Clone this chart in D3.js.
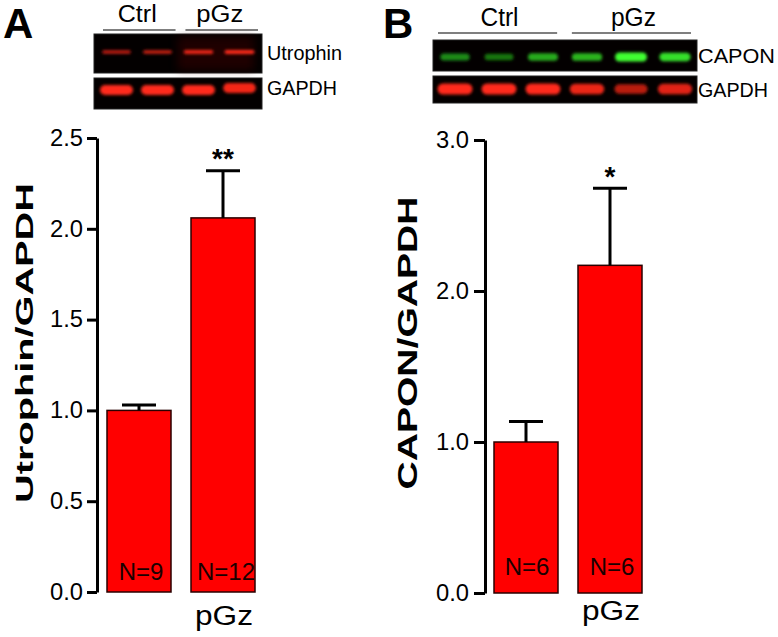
<!DOCTYPE html>
<html>
<head>
<meta charset="utf-8">
<script src="https://cdn.jsdelivr.net/npm/d3@7"></script>
<style>
  html, body { margin: 0; padding: 0; background: #fff; }
  svg { display: block; font-family: "Liberation Sans", Arial, Helvetica, sans-serif; }
</style>
</head>
<body>
<svg id="chart" width="778" height="637"></svg>
<script>
// ---------- data ----------
const categories = ["Ctrl", "pGz"];
const xTickLabels = ["", "pGz"];

const utrophinMean = [1.0, 2.06];
const utrophinSEM = [0.03, 0.26];
const utrophinN = ["N=9", "N=12"];
const utrophinSig = ["", "**"];
const utrophinTicks = [0, 0.5, 1.0, 1.5, 2.0, 2.5];

const caponMean = [1.0, 2.17];
const caponSEM = [0.135, 0.51];
const caponN = ["N=6", "N=6"];
const caponSig = ["", "*"];
const caponTicks = [0, 1.0, 2.0, 3.0];

// blot band intensities (relative), per lane
const utrophinBands = [0.7, 0.75, 0.9, 1.0];
const gapdhBandsA = [1.0, 1.0, 1.0, 0.95];
const caponBands = [0.45, 0.35, 0.6, 0.65, 1.0, 0.85];
const gapdhBandsB = [1.0, 1.0, 1.0, 0.9, 0.65, 0.85];
const blotGroupsA = ["Ctrl", "pGz"];
const blotGroupsB = ["Ctrl", "pGz"];

// ---------- drawing ----------
const svg = d3.select("#chart");
const defs = svg.append("defs");
defs.append("filter").attr("id", "blur3").attr("x", "-50%").attr("y", "-100%").attr("width", "200%").attr("height", "300%")
  .append("feGaussianBlur").attr("stdDeviation", 1.6);
defs.append("filter").attr("id", "blur6").attr("x", "-50%").attr("y", "-100%").attr("width", "200%").attr("height", "300%")
  .append("feGaussianBlur").attr("stdDeviation", 4);

// panel letters
svg.append("text").attr("x", 3).attr("y", 38).attr("font-size", 42).attr("font-weight", "bold").text("A");
svg.append("text").attr("x", 383).attr("y", 38).attr("font-size", 42).attr("font-weight", "bold").text("B");

function drawBlot(cfg) {
  const g = svg.append("g");
  const lanes = d3.scaleBand().domain(d3.range(cfg.rows[0].bands.length)).range([cfg.x0 + cfg.lanePad, cfg.x1 - cfg.lanePad]);
  const groupScale = d3.scaleBand().domain(cfg.groups).range([cfg.lineX0, cfg.lineX1]).paddingInner(cfg.lineGap);
  cfg.groups.forEach((grp, i) => {
    g.append("line")
      .attr("x1", groupScale(grp)).attr("x2", groupScale(grp) + groupScale.bandwidth())
      .attr("y1", cfg.lineY).attr("y2", cfg.lineY)
      .attr("stroke", "#555").attr("stroke-width", 1.5);
    g.append("text")
      .attr("x", groupScale(grp) + groupScale.bandwidth() / 2 + cfg.labelShift[i])
      .attr("y", cfg.labelY).attr("text-anchor", "middle")
      .attr("font-size", cfg.labelSize)
      .attr("textLength", cfg.labelLen[i]).attr("lengthAdjust", "spacingAndGlyphs")
      .text(grp);
  });
  cfg.rows.forEach(row => {
    g.append("rect").attr("x", cfg.x0).attr("y", row.y0).attr("width", cfg.x1 - cfg.x0).attr("height", row.y1 - row.y0)
      .attr("fill", "#030000").attr("stroke", "#222").attr("stroke-width", 1);
    if (row.haze) {
      g.append("rect").attr("x", cfg.x0 + (cfg.x1 - cfg.x0) * 0.5).attr("y", row.y0 + 3)
        .attr("width", (cfg.x1 - cfg.x0) * 0.45).attr("height", row.y1 - row.y0 - 6)
        .attr("fill", "#3a0000").attr("opacity", 0.5).attr("filter", "url(#blur6)");
    }
    row.bands.forEach((v, i) => {
      const cx = lanes(i) + lanes.bandwidth() / 2;
      const w = row.bw * (0.85 + 0.15 * v);
      const h = row.bh * (0.6 + 0.4 * v);
      g.append("rect")
        .attr("x", cx - w / 2).attr("y", row.cy - h / 2 + (row.tilt ? row.tilt[i] : 0))
        .attr("width", w).attr("height", h).attr("rx", h / 2)
        .attr("fill", row.color(v)).attr("filter", "url(#blur3)");
    });
    g.append("text").attr("x", cfg.x1 + cfg.rowLabelGap).attr("y", row.labelY)
      .attr("font-size", 21).attr("textLength", row.labelLen).attr("lengthAdjust", "spacingAndGlyphs")
      .text(row.label);
  });
}

const redC = v => d3.interpolateRgb("#3a0000", "#ff2a1a")(v);
const greenC = v => d3.interpolateRgb("#002a00", "#40ff30")(v);

drawBlot({
  x0: 94, x1: 262, lanePad: 2, rowLabelGap: 5,
  groups: blotGroupsA, lineX0: 103, lineX1: 258, lineGap: 0.12, lineY: 30,
  labelY: 22, labelSize: 23, labelLen: [39, 47], labelShift: [-2, -2],
  rows: [
    { y0: 34, y1: 73, cy: 52, bw: 30, bh: 4, bands: utrophinBands, color: redC, label: "Utrophin", labelY: 60, labelLen: 75, haze: true },
    { y0: 78, y1: 109, cy: 90, bw: 33, bh: 10, bands: gapdhBandsA, color: redC, label: "GAPDH", labelY: 95, labelLen: 70, tilt: [0, 0, 0, -2] }
  ]
});

drawBlot({
  x0: 433, x1: 697, lanePad: 0, rowLabelGap: 1,
  groups: blotGroupsB, lineX0: 438, lineX1: 691, lineGap: 0.11, lineY: 33,
  labelY: 26, labelSize: 25, labelLen: [38, 45], labelShift: [2, 2],
  rows: [
    { y0: 40, y1: 71, cy: 57, bw: 32, bh: 9, bands: caponBands, color: greenC, label: "CAPON", labelY: 63, labelLen: 77 },
    { y0: 76, y1: 103, cy: 89, bw: 35, bh: 11, bands: gapdhBandsB, color: redC, label: "GAPDH", labelY: 97, labelLen: 70 }
  ]
});

function drawBars(cfg) {
  const g = svg.append("g");
  const x = d3.scaleBand().domain(categories).range([cfg.axisX, cfg.axisX + cfg.step * (2 - 20 / 84 + 2 * cfg.po)])
    .paddingInner(20 / 84).paddingOuter(cfg.po);
  const y = d3.scaleLinear().domain([0, cfg.max]).range([cfg.y0, cfg.yTop]);

  g.selectAll("rect.bar").data(categories).join("rect")
    .attr("x", d => x(d)).attr("width", x.bandwidth())
    .attr("y", (d, i) => y(cfg.mean[i])).attr("height", (d, i) => y(0) - y(cfg.mean[i]))
    .attr("fill", "#ff0000").attr("stroke", "#2a0000").attr("stroke-width", 1.5);

  categories.forEach((c, i) => {
    const cx = x(c) + x.bandwidth() / 2;
    g.append("line").attr("x1", cx).attr("x2", cx)
      .attr("y1", y(cfg.mean[i])).attr("y2", y(cfg.mean[i] + cfg.sem[i]))
      .attr("stroke", "#000").attr("stroke-width", 3);
    g.append("line").attr("x1", cx - 17).attr("x2", cx + 17)
      .attr("y1", y(cfg.mean[i] + cfg.sem[i])).attr("y2", y(cfg.mean[i] + cfg.sem[i]))
      .attr("stroke", "#000").attr("stroke-width", 3);
    if (cfg.sig[i]) {
      g.append("text").attr("x", cx).attr("y", y(cfg.mean[i] + cfg.sem[i]) - cfg.sigGap)
        .attr("text-anchor", "middle").attr("font-size", 28).attr("font-weight", "bold").text(cfg.sig[i]);
    }
    g.append("text").attr("x", cx + cfg.nShift[i]).attr("y", cfg.nY)
      .attr("text-anchor", "middle").attr("font-size", 24).attr("fill", "#1a0000").text(cfg.n[i]);
    if (xTickLabels[i]) {
      g.append("text").attr("x", cx + 1).attr("y", cfg.catY)
        .attr("text-anchor", "middle").attr("font-size", 27)
        .attr("textLength", 58).attr("lengthAdjust", "spacingAndGlyphs").text(xTickLabels[i]);
    }
  });

  const ax = g.append("g").attr("transform", `translate(${cfg.axisX},0)`)
    .call(d3.axisLeft(y).tickValues(cfg.ticks).tickFormat(d3.format(".1f")).tickSize(cfg.tickLen).tickSizeOuter(0).tickPadding(cfg.tickPad));
  ax.select(".domain").attr("stroke", "#000").attr("stroke-width", 3);
  ax.selectAll(".tick line").attr("stroke", "#000").attr("stroke-width", 3);
  ax.selectAll(".tick text").attr("font-size", 23).attr("fill", "#000")
    .attr("font-family", "'Liberation Sans', Arial, sans-serif")
    .attr("textLength", 33).attr("lengthAdjust", "spacingAndGlyphs");

  g.append("text")
    .attr("transform", `translate(${cfg.labelX},${cfg.labelCY}) rotate(-90)`)
    .attr("text-anchor", "middle").attr("font-size", cfg.labelSize).attr("font-weight", "bold")
    .attr("textLength", cfg.labelLen).attr("lengthAdjust", "spacingAndGlyphs")
    .text(cfg.label);
}

drawBars({
  axisX: 97, step: 84, po: 10 / 84, y0: 592, yTop: 138, max: 2.5,
  mean: utrophinMean, sem: utrophinSEM, n: utrophinN, sig: utrophinSig, ticks: utrophinTicks,
  sigGap: 3, nY: 580, nShift: [2, 3], catY: 625, tickLen: 10, tickPad: 4,
  label: "Utrophin/GAPDH", labelX: 33, labelCY: 343, labelSize: 24, labelLen: 320
});

drawBars({
  axisX: 485, step: 84, po: 9 / 84, y0: 593, yTop: 140, max: 3,
  mean: caponMean, sem: caponSEM, n: caponN, sig: caponSig, ticks: caponTicks,
  sigGap: 2, nY: 575, nShift: [1, 2], catY: 620, tickLen: 11, tickPad: 5,
  label: "CAPON/GAPDH", labelX: 417, labelCY: 343, labelSize: 28, labelLen: 293
});
</script>
</body>
</html>
